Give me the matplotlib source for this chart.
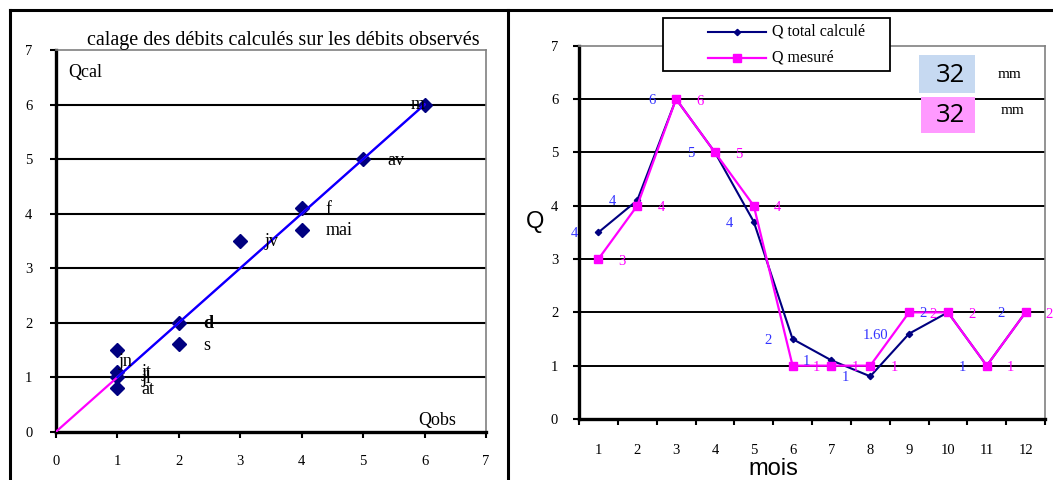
import matplotlib
matplotlib.use("Agg")
import matplotlib.pyplot as plt
from matplotlib.lines import Line2D
from matplotlib.patches import Rectangle

# ---------------- data ----------------
# left panel: calage (Qobs, Qcal) with month labels
pt_labels = ["m", "av", "f", "mai", "jv", "d", "s", "jn", "jt", "jl", "at"]
q_obs = [6, 5, 4, 4, 3, 2, 2, 1, 1, 1, 1]
q_cal = [6.0, 5.0, 4.1, 3.7, 3.5, 2.0, 1.6, 1.5, 1.1, 1.0, 0.8]
bisect_x = [0, 6]
bisect_y = [0, 6]
trend_x = [1, 6]
trend_y = [1, 6]
left_title = "calage des débits calculés sur les débits observés"

# right panel: monthly discharges
months = list(range(1, 13))
q_calc = [3.5, 4.1, 6.0, 5.0, 3.7, 1.5, 1.1, 0.8, 1.6, 2.0, 1.0, 2.0]
q_mes = [3, 4, 6, 5, 4, 1, 1, 1, 2, 2, 1, 2]
calc_lbl = ["4", "4", "6", "5", "4", "2", "1", "1", "1.60", "2", "1", "2"]
mes_lbl = ["3", "4", "6", "5", "4", "1", "1", "1", "2", "2", "1", "2"]
series_names = ["Q total calculé", "Q mesuré"]
box_values = ["32", "32"]
box_unit = "mm"

NAVY = "#000080"
MAG = "#FF00FF"
LBLUE = "#3333FF"
SERIF = ["Liberation Serif", "DejaVu Serif"]

W, H = 1053, 480
fig = plt.figure(figsize=(W / 100, H / 100), dpi=100)
fig.patch.set_facecolor("white")


def fx(x):
    return x / W


def fy(y):
    return 1 - y / H


# ---------------- outer frames ----------------
fig.add_artist(Line2D([fx(10), fx(1053)], [fy(10), fy(10)], color="black", lw=2.2))
fig.add_artist(Line2D([fx(10), fx(10)], [fy(10), fy(480)], color="black", lw=2.2))
fig.add_artist(Line2D([fx(508), fx(508)], [fy(10), fy(480)], color="black", lw=2.2))

# ---------------- left panel ----------------
ax1 = fig.add_axes([fx(56), fy(431.7), (486 - 56) / W, (431.7 - 50) / H])
ax1.set_xlim(0, 7)
ax1.set_ylim(0, 7)
for y in range(1, 7):
    ax1.axhline(y, color="black", lw=1.5, zorder=1)
ax1.plot(q_obs, q_cal, linestyle="none", marker="D", ms=7.5,
         color=NAVY, zorder=3)
ax1.plot(bisect_x, bisect_y, color=MAG, lw=1.6, zorder=4)
ax1.plot(trend_x, trend_y, color="#0000FF", lw=1.6, zorder=5)

special = {"m": (-14, 0), "jn": (1, -12)}
for lab, xo, yo in zip(pt_labels, q_obs, q_cal):
    dx, dy = special.get(lab, (24, -1))
    ax1.annotate(lab, (xo, yo), xytext=(dx * 0.72, dy * 0.72),
                 textcoords="offset points", ha="left", va="center",
                 fontsize=13, family=SERIF, color="black", zorder=6,
                 fontweight="bold" if lab == "d" else "normal")

ax1.spines["left"].set_linewidth(2.4)
ax1.spines["bottom"].set_linewidth(2.4)
for s in ("top", "right"):
    ax1.spines[s].set_color("#808080")
    ax1.spines[s].set_linewidth(1.2)
ax1.set_xticks(range(0, 8))
ax1.set_yticks(range(0, 8))
ax1.tick_params(axis="both", direction="out", length=4, width=1.5,
                labelsize=10.5, color="black")
ax1.tick_params(axis="x", pad=13)
ax1.tick_params(axis="y", pad=13)
for t in ax1.get_xticklabels() + ax1.get_yticklabels():
    t.set_family(SERIF)

fig.text(fx(283), fy(41), left_title, ha="center", va="center",
         fontsize=14.5, family=SERIF)
fig.text(fx(68), fy(72), "Qcal", ha="left", va="center", fontsize=13, family=SERIF)
fig.text(fx(418), fy(421), "Qobs", ha="left", va="center", fontsize=13, family=SERIF)

# ---------------- right panel ----------------
ax2 = fig.add_axes([fx(579), fy(419), (1045 - 579) / W, (419 - 45.7) / H])
ax2.set_xlim(0.5, 12.5)
ax2.set_ylim(0, 7)
for y in range(1, 7):
    ax2.axhline(y, color="black", lw=1.4, zorder=1)
ax2.plot(months, q_calc, color=NAVY, lw=1.5, marker="D", ms=3.2, zorder=3)
ax2.plot(months, q_mes, color=MAG, lw=1.6, marker="s", ms=5.5, zorder=4)

for m, v, t in zip(months, q_calc, calc_lbl):
    ax2.annotate(t, (m, v), xytext=(-15, -1), textcoords="offset points",
                 ha="right", va="center", fontsize=10.5, family=SERIF,
                 color=LBLUE, zorder=6, annotation_clip=False)
for m, v, t in zip(months, q_mes, mes_lbl):
    ax2.annotate(t, (m, v), xytext=(14.5, -1.5), textcoords="offset points",
                 ha="left", va="center", fontsize=10.5, family=SERIF,
                 color=MAG, zorder=6, annotation_clip=False)

ax2.spines["left"].set_linewidth(2.4)
ax2.spines["bottom"].set_linewidth(2.4)
for s in ("top", "right"):
    ax2.spines[s].set_color("#808080")
    ax2.spines[s].set_linewidth(1.2)
ax2.set_xticks(months)
ax2.set_xticks([m + 0.5 for m in [0] + months], minor=True)
ax2.set_yticks(range(0, 8))
ax2.tick_params(axis="x", which="major", length=0, pad=18, labelsize=10.5)
ax2.tick_params(axis="x", which="minor", direction="out", length=4, width=1.5)
ax2.tick_params(axis="y", direction="out", length=4, width=1.5, pad=11,
                labelsize=10.5)
for t in ax2.get_xticklabels() + ax2.get_yticklabels():
    t.set_family(SERIF)

fig.text(fx(535), fy(222), "Q", ha="center", va="center", fontsize=17,
         family="Liberation Sans")
fig.text(fx(773), fy(469), "mois", ha="center", va="center", fontsize=17,
         family="Liberation Sans")

# legend (drawn on the figure, above the plot border)
fig.add_artist(Rectangle((fx(663), fy(71)), (890 - 663) / W, (71 - 18) / H,
                         facecolor="white", edgecolor="black", lw=1.3, zorder=10))
fig.add_artist(Line2D([fx(708), fx(766)], [fy(32), fy(32)], color=NAVY, lw=1.5,
                      zorder=11))
fig.add_artist(Line2D([fx(737)], [fy(32)], color=NAVY, marker="D", ms=3.2,
                      zorder=12))
fig.add_artist(Line2D([fx(708), fx(766)], [fy(58), fy(58)], color=MAG, lw=1.6,
                      zorder=11))
fig.add_artist(Line2D([fx(737)], [fy(58)], color=MAG, marker="s", ms=5.5,
                      zorder=12))
fig.text(fx(772), fy(32), series_names[0], ha="left", va="center",
         fontsize=11.5, family=SERIF, zorder=12)
fig.text(fx(772), fy(58), series_names[1], ha="left", va="center",
         fontsize=11.5, family=SERIF, zorder=12)

# value boxes
fig.add_artist(Rectangle((fx(919), fy(93)), 56 / W, 38 / H,
                         facecolor="#C6D9F1", edgecolor="none", zorder=10))
fig.add_artist(Rectangle((fx(921), fy(133)), 54 / W, 36 / H,
                         facecolor="#FF99FF", edgecolor="none", zorder=10))
fig.text(fx(950), fy(75), box_values[0], ha="center", va="center",
         fontsize=18.5, family="Open Sans", zorder=11)
fig.text(fx(950), fy(116), box_values[1], ha="center", va="center",
         fontsize=18.5, family="Open Sans", zorder=11)
fig.text(fx(1010), fy(74), box_unit, ha="center", va="center",
         fontsize=11, family=SERIF, zorder=11)
fig.text(fx(1013), fy(111), box_unit, ha="center", va="center",
         fontsize=11, family=SERIF, zorder=11)

fig.savefig("out.png", dpi=100)
